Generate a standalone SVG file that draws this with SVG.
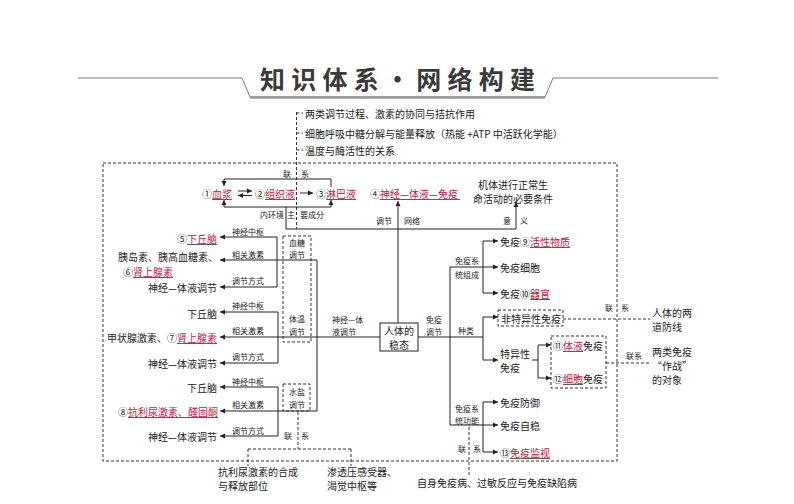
<svg xmlns="http://www.w3.org/2000/svg" width="794" height="504" viewBox="0 0 794 504">
<style>
.t{font-family:"Noto Sans CJK SC","Liberation Sans",sans-serif;font-size:10px;fill:#222;dominant-baseline:central}
.s{font-size:8px}
.r{fill:#c8163c}
.ln{stroke:#222;stroke-width:1;fill:none}
.ul{stroke:#333;stroke-width:0.8}
.ds{stroke:#333;stroke-width:1;fill:none;stroke-dasharray:3 2}
.ar{stroke:#222;stroke-width:1;fill:none;marker-end:url(#ah)}
</style>
<defs>
<marker id="ah" markerWidth="6" markerHeight="6" refX="5" refY="3" orient="auto" markerUnits="userSpaceOnUse">
<path d="M0,0.5 L5,3 L0,5.5 Z" fill="#222"/>
</marker>
</defs>
<rect width="794" height="504" fill="#fff"/>

<g id="title">
<path d="M78,78 L242,78 L250,97 L545,97 L553,78 L718,78" fill="none" stroke="#777" stroke-width="1"/>
<line x1="250" y1="97.5" x2="545" y2="97.5" stroke="#999" stroke-width="2.5"/>
<text class="t" x="260" y="78" textLength="275" style="font-size:25px;font-weight:bold;fill:#3a3a3a">知识体系·网络构建</text>
</g>

<g id="frame">
<rect class="ds" x="103" y="163" width="514" height="298"/>
</g>

<g id="notes">
<text class="t" x="305" y="113">两类调节过程、激素的协同与拮抗作用</text>
<text class="t" x="305" y="133">细胞呼吸中糖分解与能量释放（热能 +ATP 中活跃化学能）</text>
<text class="t" x="305" y="150">温度与酶活性的关系</text>
</g>

<g id="connectors">
<path class="ds" d="M296.5,112 V229 M296.5,113 H303 M296.5,133 H303 M296.5,150 H303"/>
<path class="ar" d="M331,187 V179 H224 V186"/>
<line class="ar" x1="238" y1="191" x2="252" y2="191"/>
<line class="ar" x1="252" y1="195.5" x2="238" y2="195.5"/>
<line class="ar" x1="300" y1="193" x2="313" y2="193"/>
<path class="ln" d="M224,207 H331 M286,207 V229 M286,229 H516 M398,229 V323"/>
<line class="ar" x1="224" y1="207" x2="224" y2="200"/>
<line class="ar" x1="331" y1="207" x2="331" y2="200"/>
<line class="ar" x1="398" y1="229" x2="398" y2="201"/>
<line class="ar" x1="516" y1="229" x2="516" y2="202"/>
<path class="ln" d="M317,260 V411"/>
<line class="ar" x1="317" y1="260" x2="220" y2="260"/>
<path class="ln" d="M277,237 V287"/>
<line class="ar" x1="277" y1="237" x2="220" y2="237"/>
<line class="ar" x1="277" y1="287" x2="220" y2="287"/>
<line class="ar" x1="380" y1="337" x2="220" y2="337"/>
<path class="ln" d="M278,312 V363"/>
<line class="ar" x1="278" y1="312" x2="220" y2="312"/>
<line class="ar" x1="278" y1="363" x2="220" y2="363"/>
<line class="ar" x1="317" y1="411" x2="220" y2="411"/>
<path class="ln" d="M278,387 V436"/>
<line class="ar" x1="278" y1="387" x2="220" y2="387"/>
<line class="ar" x1="278" y1="436" x2="220" y2="436"/>
<path class="ds" d="M298,412 V449 M248,449 H351 M248,449 V466 M351,449 V466"/>
<path class="ln" d="M418,337 H483 M450,267 V425 M483,241 V293 M483,317 V360 M532,360 H538 M538,345 V378 M483,402 V452"/>
<line class="ar" x1="450" y1="267" x2="498" y2="267"/>
<line class="ar" x1="483" y1="241" x2="498" y2="241"/>
<line class="ar" x1="483" y1="293" x2="498" y2="293"/>
<line class="ar" x1="483" y1="317" x2="498" y2="317"/>
<line class="ar" x1="483" y1="360" x2="498" y2="360"/>
<line class="ar" x1="538" y1="345" x2="551" y2="345"/>
<line class="ar" x1="538" y1="378" x2="551" y2="378"/>
<line class="ar" x1="483" y1="402" x2="498" y2="402"/>
<line class="ar" x1="450" y1="425" x2="498" y2="425"/>
<line class="ar" x1="483" y1="452" x2="498" y2="452"/>
<path class="ds" d="M563,319 H650 M606,363 H650 M469,427 V476"/>
</g>

<g id="edge-labels">
<text class="t s" x="287" y="173" text-anchor="middle">联</text>
<text class="t s" x="305" y="173" text-anchor="middle">系</text>
<text class="t s" x="284" y="214" text-anchor="end">内环境</text>
<text class="t s" x="287" y="214">主</text>
<text class="t s" x="300" y="214">要成分</text>
<text class="t s" x="392" y="220" text-anchor="end">调节</text>
<text class="t s" x="404" y="220">网络</text>
<text class="t s" x="507" y="220" text-anchor="middle">意</text>
<text class="t s" x="524" y="220" text-anchor="middle">义</text>
<text class="t s" x="332" y="319">神经—体</text>
<text class="t s" x="332" y="331">液调节</text>
<text class="t s" x="434" y="319" text-anchor="middle">免疫</text>
<text class="t s" x="434" y="331" text-anchor="middle">调节</text>
<text class="t s" x="466" y="330" text-anchor="middle">种类</text>
<text class="t s" x="467" y="260" text-anchor="middle">免疫系</text>
<text class="t s" x="467" y="274" text-anchor="middle">统组成</text>
<text class="t s" x="467" y="408" text-anchor="middle">免疫系</text>
<text class="t s" x="467" y="420" text-anchor="middle">统功能</text>
<text class="t s" x="248" y="231" text-anchor="middle">神经中枢</text>
<text class="t s" x="248" y="254" text-anchor="middle">相关激素</text>
<text class="t s" x="248" y="280" text-anchor="middle">调节方式</text>
<text class="t s" x="248" y="305" text-anchor="middle">神经中枢</text>
<text class="t s" x="248" y="330" text-anchor="middle">相关激素</text>
<text class="t s" x="248" y="356" text-anchor="middle">调节方式</text>
<text class="t s" x="248" y="381" text-anchor="middle">神经中枢</text>
<text class="t s" x="248" y="404" text-anchor="middle">相关激素</text>
<text class="t s" x="248" y="430" text-anchor="middle">调节方式</text>
<text class="t s" x="288" y="435" text-anchor="middle">联</text>
<text class="t s" x="305" y="435" text-anchor="middle">系</text>
<text class="t s" x="609" y="307" text-anchor="middle">联</text>
<text class="t s" x="625" y="307" text-anchor="middle">系</text>
<text class="t s" x="634" y="355" text-anchor="middle">联系</text>
<text class="t s" x="462" y="448" text-anchor="middle">联</text>
<text class="t s" x="477" y="448" text-anchor="middle">系</text>
</g>

<g id="n-xuejiang"><text class="t" x="202" y="193">①<tspan class="r">血浆</tspan></text><line class="ul" x1="212" y1="199.5" x2="232" y2="199.5"/></g>
<g id="n-zuzhiye"><text class="t" x="255" y="193">②<tspan class="r">组织液</tspan></text><line class="ul" x1="265" y1="199.5" x2="295" y2="199.5"/></g>
<g id="n-linbaye"><text class="t" x="316" y="193">③<tspan class="r">淋巴液</tspan></text><line class="ul" x1="326" y1="199.5" x2="356" y2="199.5"/></g>
<g id="n-network"><text class="t" x="370" y="193">④<tspan class="r">神经—体液—免疫</tspan></text><line class="ul" x1="380" y1="199.5" x2="460" y2="199.5"/></g>
<g id="n-meaning"><text class="t" x="513" y="184" text-anchor="middle">机体进行正常生</text><text class="t" x="513" y="198" text-anchor="middle">命活动的必要条件</text></g>

<g id="n-center"><rect x="380" y="323" width="38" height="28" fill="#fff" stroke="#222"/><text class="t" x="399" y="330.5" text-anchor="middle">人体的</text><text class="t" x="399" y="344" text-anchor="middle">稳态</text></g>

<g id="n-tangreg"><rect class="ds" x="283" y="236" width="28" height="106"/><text class="t s" x="297" y="242" text-anchor="middle">血糖</text><text class="t s" x="297" y="254" text-anchor="middle">调节</text><text class="t s" x="297" y="318" text-anchor="middle">体温</text><text class="t s" x="297" y="331" text-anchor="middle">调节</text></g>
<g id="n-shuiyan"><rect class="ds" x="283" y="384" width="27" height="27"/><text class="t s" x="297" y="391" text-anchor="middle">水盐</text><text class="t s" x="297" y="404" text-anchor="middle">调节</text></g>

<g id="n-g1a"><text class="t" x="217" y="238" text-anchor="end">⑤<tspan class="r">下丘脑</tspan></text><line class="ul" x1="187" y1="244.5" x2="217" y2="244.5"/></g>
<g id="n-g1b"><text class="t" x="218" y="256.5" text-anchor="end">胰岛素、胰高血糖素、</text><text class="t" x="123" y="271">⑥<tspan class="r">肾上腺素</tspan></text><line class="ul" x1="133" y1="277.5" x2="173" y2="277.5"/></g>
<g id="n-g1c"><text class="t" x="217" y="287" text-anchor="end">神经—体液调节</text></g>
<g id="n-g2a"><text class="t" x="217" y="313" text-anchor="end">下丘脑</text></g>
<g id="n-g2b"><text class="t" x="217" y="337" text-anchor="end">甲状腺激素、⑦<tspan class="r">肾上腺素</tspan></text><line class="ul" x1="177" y1="343.5" x2="217" y2="343.5"/></g>
<g id="n-g2c"><text class="t" x="217" y="363" text-anchor="end">神经—体液调节</text></g>
<g id="n-g3a"><text class="t" x="217" y="387" text-anchor="end">下丘脑</text></g>
<g id="n-g3b"><text class="t" x="218" y="411" text-anchor="end">⑧<tspan class="r">抗利尿激素、醛固酮</tspan></text><line class="ul" x1="128" y1="417.5" x2="218" y2="417.5"/></g>
<g id="n-g3c"><text class="t" x="217" y="436" text-anchor="end">神经—体液调节</text></g>
<g id="n-bottom1"><text class="t" x="218" y="471">抗利尿激素的合成</text><text class="t" x="218" y="485">与释放部位</text></g>
<g id="n-bottom2"><text class="t" x="327" y="471">渗透压感受器、</text><text class="t" x="327" y="485">渴觉中枢等</text></g>

<g id="n-i1"><text class="t" x="500" y="241">免疫⑨<tspan class="r">活性物质</tspan></text><line class="ul" x1="530" y1="247.5" x2="570" y2="247.5"/></g>
<g id="n-i2"><text class="t" x="500" y="267">免疫细胞</text></g>
<g id="n-i3"><text class="t" x="500" y="293">免疫⑩<tspan class="r">器官</tspan></text><line class="ul" x1="530" y1="299.5" x2="550" y2="299.5"/></g>
<g id="n-feite"><rect class="ds" x="498" y="310" width="65" height="16"/><text class="t" x="501" y="318">非特异性免疫</text></g>
<g id="n-teyi"><text class="t" x="500" y="353">特异性</text><text class="t" x="500" y="367">免疫</text></g>
<g id="n-two"><rect class="ds" x="551" y="336" width="55" height="52"/><text class="t" x="553" y="345">⑪<tspan class="r">体液</tspan>免疫</text><line class="ul" x1="563" y1="351.5" x2="583" y2="351.5"/><text class="t" x="553" y="378">⑫<tspan class="r">细胞</tspan>免疫</text><line class="ul" x1="563" y1="384.5" x2="583" y2="384.5"/></g>
<g id="n-defense"><text class="t" x="652" y="312">人体的两</text><text class="t" x="652" y="326">道防线</text></g>
<g id="n-target"><text class="t" x="652" y="351">两类免疫</text><text class="t" x="652" y="365">“作战”</text><text class="t" x="652" y="379">的对象</text></g>
<g id="n-f1"><text class="t" x="500" y="402">免疫防御</text></g>
<g id="n-f2"><text class="t" x="500" y="425">免疫自稳</text></g>
<g id="n-f3"><text class="t" x="500" y="452">⑬<tspan class="r">免疫监视</tspan></text><line class="ul" x1="510" y1="458.5" x2="550" y2="458.5"/></g>
<g id="n-disease"><text class="t" x="417" y="482">自身免疫病、过敏反应与免疫缺陷病</text></g>
</svg>
